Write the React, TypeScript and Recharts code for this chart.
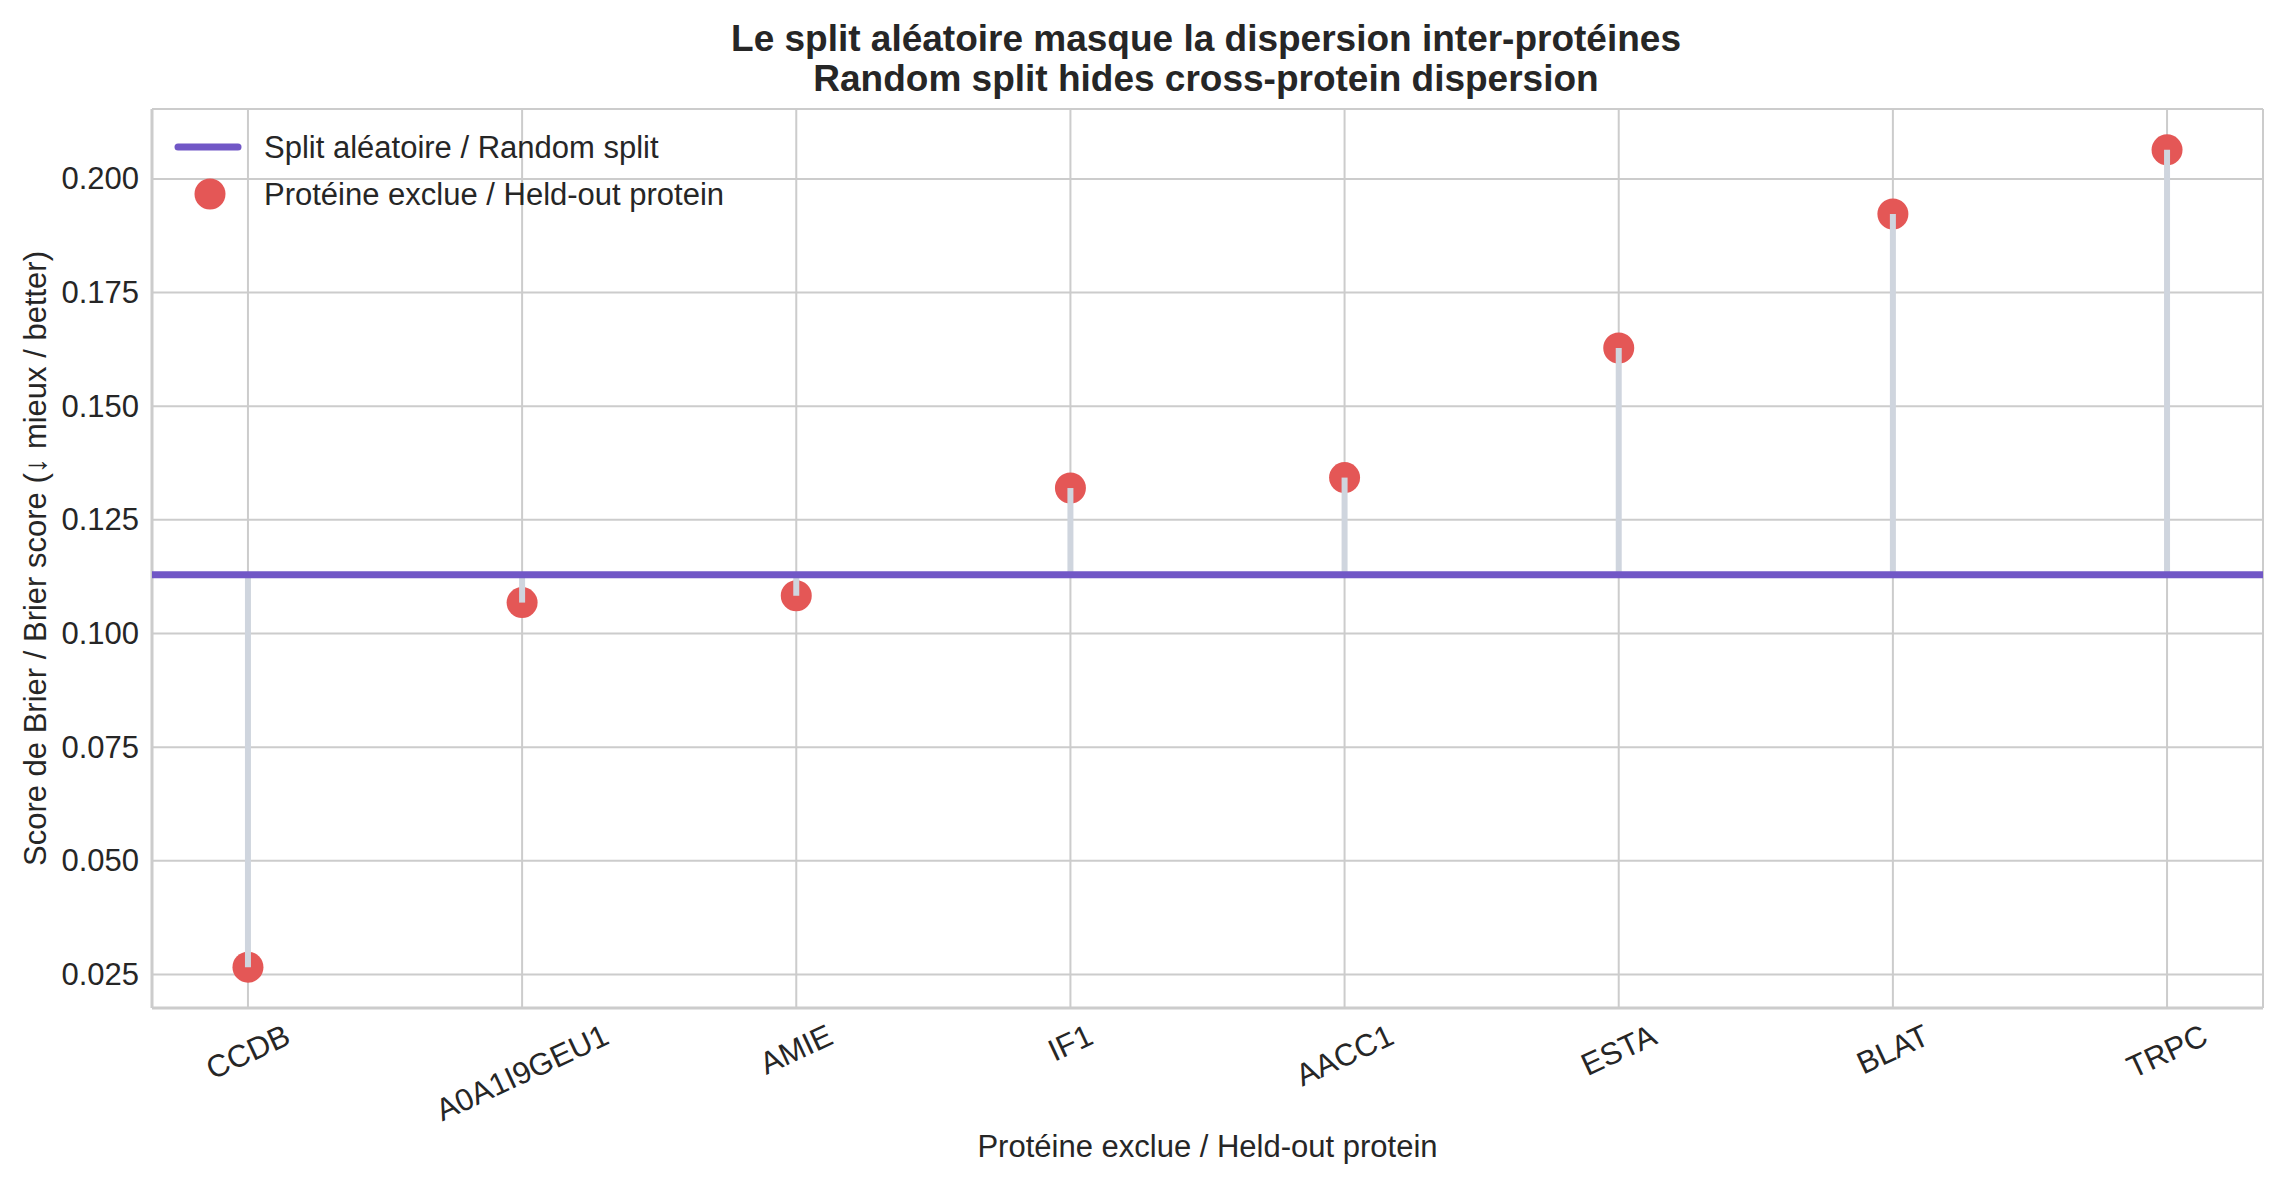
import React from 'react';
import {
  ComposedChart,
  Scatter,
  XAxis,
  YAxis,
  CartesianGrid,
  ReferenceLine,
} from 'recharts';

const proteins = ['CCDB', 'A0A1I9GEU1', 'AMIE', 'IF1', 'AACC1', 'ESTA', 'BLAT', 'TRPC'];
const heldOutBrier = [0.0266, 0.1068, 0.1083, 0.132, 0.1343, 0.1628, 0.1923, 0.2064];
const randomSplitBrier = 0.1129;
const yTicks = [0.025, 0.05, 0.075, 0.1, 0.125, 0.15, 0.175, 0.2];

const FONT = '"Liberation Sans", Arial, Helvetica, sans-serif';
const TEXT = '#262626';
const GRID = '#cccccc';
const RED = '#e45756';
const PURPLE = '#7157c6';
const STEM = '#cfd5de';
const FS = 31;
const TITLE_FS = 37;

const W = 2268;
const H = 1170;

const points = proteins.map((name, i) => ({ x: i, y: heldOutBrier[i], name }));

// matplotlib-style 5% margins around the data
const yMin = Math.min(...heldOutBrier);
const yMax = Math.max(...heldOutBrier);
const yPad = (yMax - yMin) * 0.05;
const yDomain: [number, number] = [yMin - yPad, yMax + yPad];
const xDomain: [number, number] = [-0.35, proteins.length - 1 + 0.35];

let ctx: CanvasRenderingContext2D | null = null;
function textWidth(s: string) {
  if (!ctx) ctx = document.createElement('canvas').getContext('2d');
  if (!ctx) return s.length * FS * 0.62;
  ctx.font = `${FS}px "Liberation Sans", Arial, sans-serif`;
  return ctx.measureText(s).width;
}

const ANGLE = 25;
function XTick({ x, y, payload }: any) {
  const label = proteins[payload.value] ?? '';
  const w = textWidth(label);
  const h = FS * 1.1;
  const rad = (ANGLE * Math.PI) / 180;
  const cy = y + (w * Math.sin(rad) + h * Math.cos(rad)) / 2;
  return (
    <text
      x={x}
      y={cy}
      textAnchor="middle"
      dominantBaseline="central"
      transform={`rotate(${-ANGLE}, ${x}, ${cy})`}
      fontFamily={FONT}
      fontSize={FS}
      fill={TEXT}
    >
      {label}
    </text>
  );
}

function YTick({ x, y, payload }: any) {
  return (
    <text x={x} y={y} textAnchor="end" dominantBaseline="central" fontFamily={FONT} fontSize={FS} fill={TEXT}>
      {payload.value.toFixed(3)}
    </text>
  );
}

const Dot = (props: any) => <circle cx={props.cx} cy={props.cy} r={15.5} fill={RED} />;

export default function App() {
  return (
    <div style={{ position: 'relative', width: W, height: H, background: '#fff' }}>
      <ComposedChart width={W} height={H} data={points} margin={{ top: 101, right: 13, left: 0, bottom: 0 }}>
        <CartesianGrid stroke={GRID} strokeWidth={2} />
        <XAxis
          type="number"
          dataKey="x"
          domain={xDomain}
          ticks={proteins.map((_, i) => i)}
          allowDataOverflow
          height={170}
          tickSize={0}
          tickMargin={10}
          tickLine={false}
          axisLine={{ stroke: GRID, strokeWidth: 3 }}
          tick={<XTick />}
          label={{
            content: ({ viewBox }: any) => (
              <text
                x={viewBox.x + viewBox.width / 2}
                y={1138}
                textAnchor="middle"
                dominantBaseline="central"
                fontFamily={FONT}
                fontSize={FS}
                fill={TEXT}
              >
                Protéine exclue / Held-out protein
              </text>
            ),
          }}
        />
        <XAxis
          xAxisId="top"
          orientation="top"
          type="number"
          dataKey="x"
          domain={xDomain}
          allowDataOverflow
          height={0}
          tick={false}
          tickLine={false}
          axisLine={{ stroke: GRID, strokeWidth: 3 }}
        />
        <YAxis
          type="number"
          domain={yDomain}
          ticks={yTicks}
          allowDataOverflow
          width={144}
          tickSize={0}
          tickMargin={13}
          tickLine={false}
          axisLine={{ stroke: GRID, strokeWidth: 3 }}
          tick={<YTick />}
          label={{
            content: ({ viewBox }: any) => {
              const cy = viewBox.y + viewBox.height / 2;
              return (
                <text
                  x={27}
                  y={cy}
                  textAnchor="middle"
                  dominantBaseline="central"
                  transform={`rotate(-90, 27, ${cy})`}
                  fontFamily={FONT}
                  fontSize={FS}
                  fill={TEXT}
                >
                  Score de Brier / Brier score (↓ mieux / better)
                </text>
              );
            },
          }}
        />
        <YAxis
          yAxisId="right"
          orientation="right"
          type="number"
          domain={yDomain}
          allowDataOverflow
          width={0}
          tick={false}
          tickLine={false}
          axisLine={{ stroke: GRID, strokeWidth: 3 }}
        />
        <Scatter dataKey="y" shape={<Dot />} isAnimationActive={false} zIndex={600} />
        {points.map((p) => (
          <ReferenceLine
            key={p.name}
            segment={[
              { x: p.x, y: randomSplitBrier },
              { x: p.x, y: p.y },
            ]}
            stroke={STEM}
            strokeWidth={6}
            zIndex={700}
          />
        ))}
        <ReferenceLine y={randomSplitBrier} stroke={PURPLE} strokeWidth={7} zIndex={800} />
      </ComposedChart>
      <svg
        width={W}
        height={H}
        style={{ position: 'absolute', left: 0, top: 0, pointerEvents: 'none' }}
      >
        <text x={1198} y={43} textAnchor="middle" fontFamily={FONT} fontSize={TITLE_FS} fontWeight="bold" fill={TEXT}>
          Le split aléatoire masque la dispersion inter-protéines
        </text>
        <text x={1198} y={83} textAnchor="middle" fontFamily={FONT} fontSize={TITLE_FS} fontWeight="bold" fill={TEXT}>
          Random split hides cross-protein dispersion
        </text>
        <line x1={170} x2={230} y1={139} y2={139} stroke={PURPLE} strokeWidth={7} strokeLinecap="round" />
        <circle cx={202} cy={186} r={15.5} fill={RED} />
        <text x={256} y={139} dominantBaseline="central" fontFamily={FONT} fontSize={FS} fill={TEXT}>
          Split aléatoire / Random split
        </text>
        <text x={256} y={186} dominantBaseline="central" fontFamily={FONT} fontSize={FS} fill={TEXT}>
          Protéine exclue / Held-out protein
        </text>
      </svg>
    </div>
  );
}
